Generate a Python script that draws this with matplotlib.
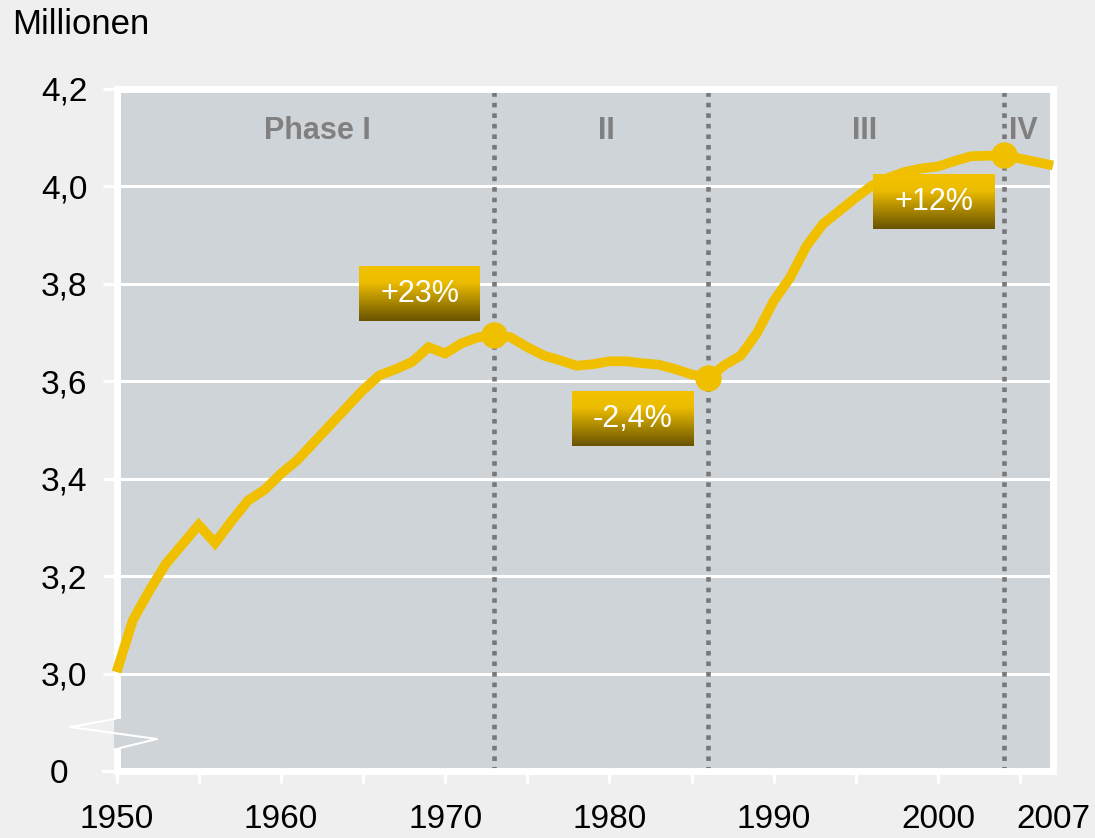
import numpy as np
import matplotlib
matplotlib.use("Agg")
import matplotlib.pyplot as plt
from matplotlib.colors import LinearSegmentedColormap

# ---- data ----
years = list(range(1950, 2008))
values = [3.003, 3.110, 3.170, 3.225, 3.265, 3.305, 3.268, 3.313, 3.355, 3.377,
          3.410, 3.438, 3.474, 3.510, 3.546, 3.582, 3.612, 3.625, 3.640, 3.670,
          3.657, 3.678, 3.690, 3.695, 3.690, 3.670, 3.653, 3.643, 3.632, 3.635,
          3.641, 3.641, 3.637, 3.634, 3.625, 3.614, 3.607, 3.633, 3.653, 3.700,
          3.765, 3.813, 3.878, 3.923, 3.950, 3.977, 4.002, 4.018, 4.030, 4.037,
          4.041, 4.052, 4.062, 4.063, 4.064, 4.057, 4.050, 4.043]
phase_years = [1973, 1986, 2004]
phase_names = ["Phase I", "II", "III", "IV"]
phase_label_x = [1962.2, 1979.8, 1995.5, 2005.2]
change_labels = ["+23%", "-2,4%", "+12%"]
ytick_vals = [3.0, 3.2, 3.4, 3.6, 3.8, 4.0, 4.2]
ytick_labels = ["3,0", "3,2", "3,4", "3,6", "3,8", "4,0", "4,2"]
xtick_major = [1950, 1960, 1970, 1980, 1990, 2000, 2007]
xtick_minor = [1955, 1965, 1975, 1985, 1995, 2005]

# ---- style ----
FIG_BG = "#eeefee"
AX_BG = "#cfd4d8"
YELLOW = "#f0c000"
GRAY = "#808080"
FONT = "Liberation Sans"
plt.rcParams['font.family'] = [FONT, 'DejaVu Sans']

fig = plt.figure(figsize=(10.95, 8.38), dpi=100, facecolor=FIG_BG)
ax = fig.add_axes([0.1064, 0.0800, 0.8553, 0.8138])
ax.set_facecolor(AX_BG)
ax.set_xlim(1950, 2007)
ax.set_ylim(2.8, 4.2)

for s in ax.spines.values():
    s.set_color("white")
    s.set_linewidth(5)

# grid
for v in ytick_vals[:-1]:
    ax.axhline(v, color="white", lw=2.2, zorder=1)

# y ticks
ax.set_yticks(ytick_vals)
ax.set_yticklabels(ytick_labels)
ax.tick_params(axis="y", direction="out", length=10, width=2.2, color="white",
               pad=11, labelsize=24, labelcolor="black")
# extra label at bottom (0)
ax.text(-0.0619, 2.792, "0", transform=ax.get_yaxis_transform(), ha="center",
        va="center", fontsize=24, color="black")

# x ticks
ax.set_xticks(xtick_major)
ax.set_xticklabels([str(x) for x in xtick_major])
ax.set_xticks(xtick_minor, minor=True)
ax.tick_params(axis="x", which="both", direction="out", length=8.6, width=2.2,
               color="white", pad=15, labelsize=24, labelcolor="black")
ax.xaxis.get_major_ticks()[-1].tick1line.set_visible(False)
# 2.8 tick mark
ax.plot([0, -0.0144], [2.8, 2.8], transform=ax.get_yaxis_transform(),
        color="white", lw=2.2, clip_on=False, zorder=3)

# phase dividers
for py in phase_years:
    ax.axvline(py, color="#787878", lw=3.3, linestyle=(0, (1, 1.3)), zorder=2)

# phase labels
for nm, px in zip(phase_names, phase_label_x):
    ax.text(px, 4.113, nm, ha="center", va="center", fontsize=22,
            fontweight="bold", color=GRAY, zorder=3)

# main line
ax.plot(years, values, color=YELLOW, lw=7, solid_joinstyle="miter",
        solid_capstyle="butt", zorder=4, clip_on=False)
mk_vals = [values[years.index(p)] for p in phase_years]
ax.plot(phase_years, mk_vals, "o", color=YELLOW, ms=18, zorder=5)

# gradient boxes
cmap = LinearSegmentedColormap.from_list(
    "gold", [(0.0, "#f2c200"), (0.3, "#ecbc00"), (1.0, "#685300")])
grad = np.linspace(0, 1, 256).reshape(-1, 1)
boxes = [(1964.77, 1972.13, 3.724, 3.835),
         (1977.72, 1985.14, 3.467, 3.578),
         (1996.02, 2003.43, 3.913, 4.024)]
for lab, (x0, x1, y0, y1) in zip(change_labels, boxes):
    ax.imshow(grad, cmap=cmap, extent=[x0, x1, y0, y1], origin="upper",
              aspect="auto", zorder=6, interpolation="bilinear")
    ax.text((x0 + x1) / 2, (y0 + y1) / 2, lab, ha="center", va="center",
            fontsize=22, color="white", zorder=7)
ax.set_xlim(1950, 2007)
ax.set_ylim(2.8, 4.2)

# axis break symbol (figure pixel coordinates)
W, H = 1095.0, 838.0
def fp(x, y):
    return x / W, 1 - y / H
rx0, ry0 = fp(113.5, 748)
rx1, ry1 = fp(124, 719)
fig.patches.append(plt.Rectangle((rx0, ry0), rx1 - rx0, ry1 - ry0,
                                 transform=fig.transFigure, facecolor=AX_BG,
                                 edgecolor="none", zorder=10))
zz = [fp(115, 719), fp(70, 727), fp(157, 739), fp(120, 748)]
fig.lines.append(plt.Line2D([p[0] for p in zz], [p[1] for p in zz],
                            transform=fig.transFigure, color="white", lw=1.5,
                            zorder=11))

# unit label
fig.text(12 / W, 1 - 25 / H, "Millionen", ha="left", va="center",
         fontsize=25, color="black")

fig.savefig("out.png", dpi=100, facecolor=FIG_BG)
